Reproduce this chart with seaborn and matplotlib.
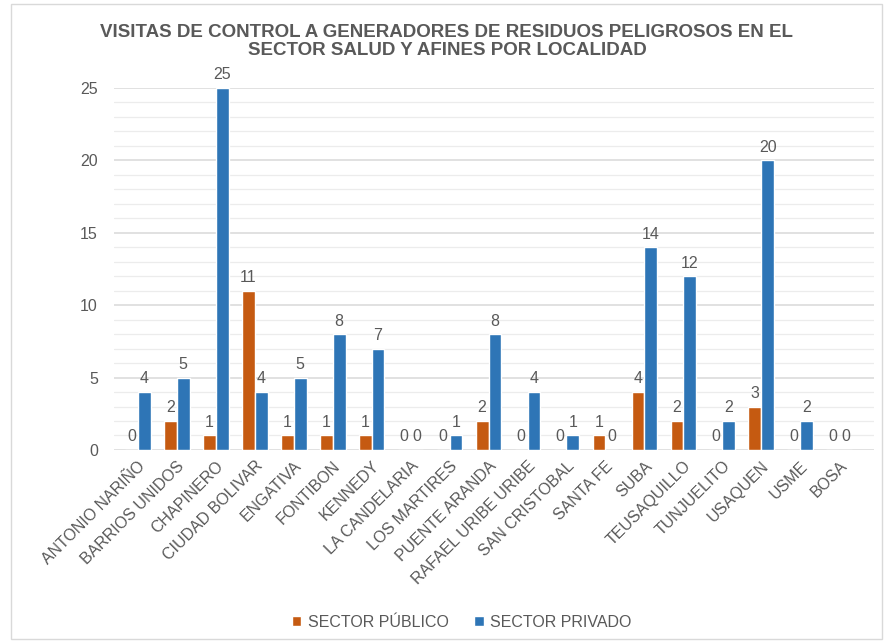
import pandas as pd
import matplotlib.pyplot as plt
import seaborn as sns
from matplotlib.patches import Rectangle

# Data
localidades = ['ANTONIO NARIÑO', 'BARRIOS UNIDOS', 'CHAPINERO', 'CIUDAD BOLIVAR',
               'ENGATIVA', 'FONTIBON', 'KENNEDY', 'LA CANDELARIA', 'LOS MARTIRES',
               'PUENTE ARANDA', 'RAFAEL URIBE URIBE', 'SAN CRISTOBAL', 'SANTA FE',
               'SUBA', 'TEUSAQUILLO', 'TUNJUELITO', 'USAQUEN', 'USME', 'BOSA']
publico = [0, 2, 1, 11, 1, 1, 1, 0, 0, 2, 0, 0, 1, 4, 2, 0, 3, 0, 0]
privado = [4, 5, 25, 4, 5, 8, 7, 0, 1, 8, 4, 1, 0, 14, 12, 2, 20, 2, 0]
series = ['SECTOR PÚBLICO', 'SECTOR PRIVADO']
colores = ['#C55A11', '#2E75B6']

df = pd.DataFrame({
    'Localidad': localidades * 2,
    'Sector': [series[0]] * len(localidades) + [series[1]] * len(localidades),
    'Visitas': publico + privado,
})

sns.set_style('white')
plt.rcParams['font.family'] = ['Liberation Sans', 'DejaVu Sans']
gris = '#595959'

fig = plt.figure(figsize=(8.94, 6.41), dpi=100)
ax = fig.add_axes([0.128, 0.298, 0.85, 0.565])

sns.barplot(data=df, x='Localidad', y='Visitas', hue='Sector', palette=colores,
            saturation=1, width=0.66, gap=0.0, ax=ax, zorder=3)

for c in ax.containers:
    ax.bar_label(c, fontsize=11.5, color=gris, padding=4)

ax.set_ylim(0, 25)
ax.set_yticks(range(0, 26, 5))
ax.set_yticks(range(0, 26, 1), minor=True)
ax.grid(axis='y', which='major', color='#d9d9d9', linewidth=1.1, zorder=0)
ax.grid(axis='y', which='minor', color='#ececec', linewidth=0.9, zorder=0)
ax.tick_params(axis='y', which='both', length=0, labelsize=11.5, colors=gris, pad=12)
ax.tick_params(axis='x', length=0, labelsize=11.5, colors=gris, pad=6)
plt.setp(ax.get_xticklabels(), rotation=45, ha='right', rotation_mode='anchor')
ax.set_xlabel('')
ax.set_ylabel('')
ax.set_xlim(-0.6, len(localidades) - 0.1)
for s in ax.spines.values():
    s.set_visible(False)

fig.suptitle('VISITAS DE CONTROL A GENERADORES DE RESIDUOS PELIGROSOS EN EL\n'
             'SECTOR SALUD Y AFINES POR LOCALIDAD', x=0.5, y=0.963,
             fontsize=13.5, fontweight='bold', color=gris, linespacing=1.1)

ax.legend(loc='upper center', bbox_to_anchor=(0.457, -0.415), ncol=2, frameon=False,
          fontsize=11.5, labelcolor=gris, handlelength=0.6, handleheight=0.6,
          columnspacing=1.6, handletextpad=0.4)

fig.patches.append(Rectangle((0.012, 0.003), 0.975, 0.99, transform=fig.transFigure,
                             fill=False, edgecolor='#d9d9d9', linewidth=1))

fig.savefig('out.png', dpi=100)
